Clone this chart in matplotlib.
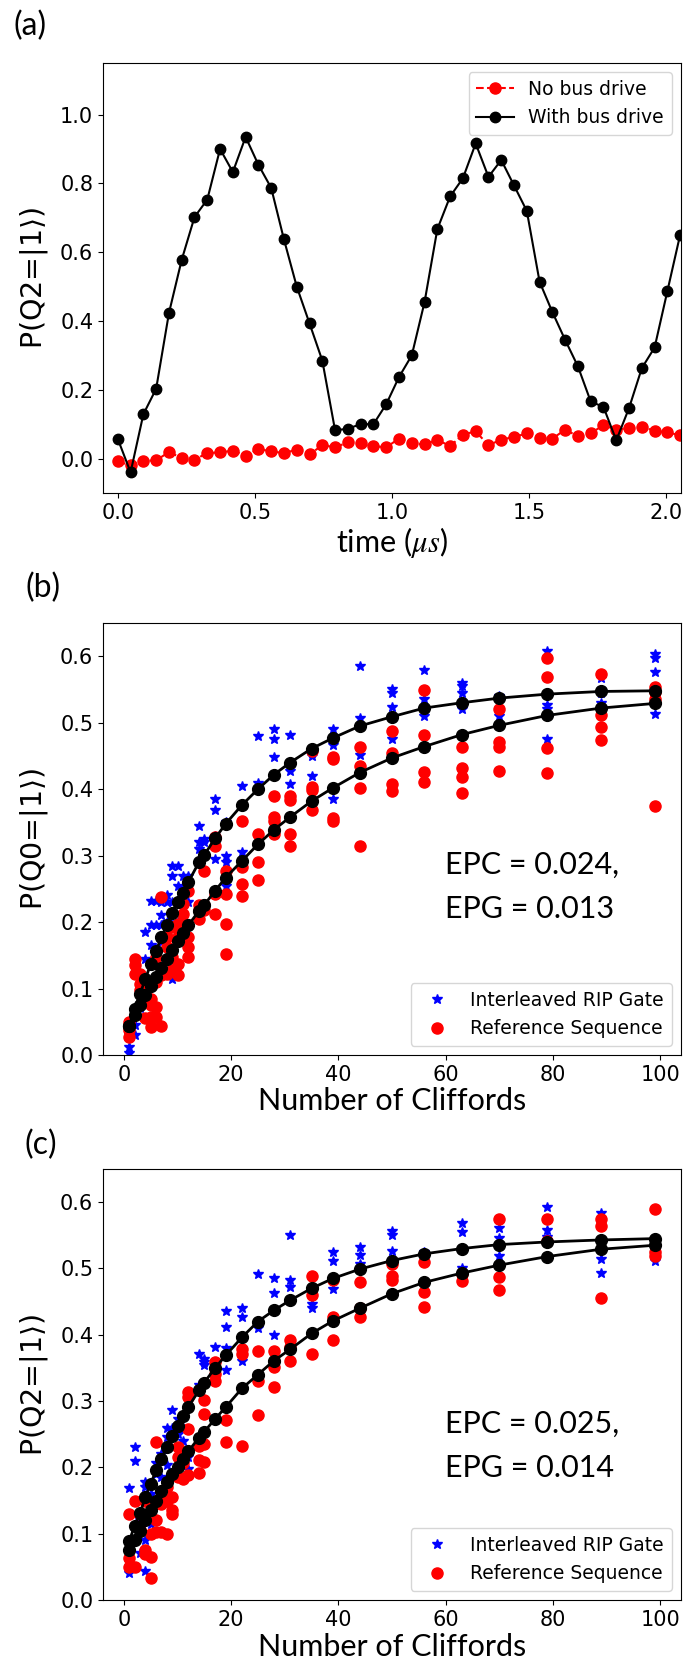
import matplotlib
matplotlib.use("Agg")
import matplotlib.pyplot as plt
import numpy as np

# ---------------- Panel (a) data ----------------
time_us = np.linspace(0.0, 2.05, 45)
no_bus = [-0.008, -0.02, -0.007, -0.005, 0.019, 0.002, -0.003, 0.016, 0.018, 0.023,
          0.009, 0.028, 0.021, 0.016, 0.026, 0.012, 0.039, 0.033, 0.047, 0.044,
          0.036, 0.033, 0.058, 0.045, 0.041, 0.055, 0.036, 0.070, 0.079, 0.039,
          0.055, 0.063, 0.073, 0.060, 0.058, 0.084, 0.065, 0.074, 0.097, 0.084,
          0.089, 0.092, 0.081, 0.076, 0.068]
with_bus = [0.057, -0.04, 0.129, 0.203, 0.423, 0.578, 0.702, 0.753, 0.900, 0.833,
            0.935, 0.854, 0.787, 0.637, 0.500, 0.393, 0.285, 0.082, 0.087, 0.100,
            0.100, 0.158, 0.237, 0.300, 0.455, 0.667, 0.762, 0.815, 0.916, 0.819,
            0.868, 0.794, 0.720, 0.514, 0.426, 0.345, 0.268, 0.166, 0.150, 0.053,
            0.147, 0.263, 0.323, 0.487, 0.651]

# ---------------- Panels (b), (c) data ----------------
cliffords = [1, 2, 3, 4, 5, 6, 7, 8, 9, 10, 11, 12, 14, 15, 17, 19, 22, 25, 28, 31,
             35, 39, 44, 50, 56, 63, 70, 79, 89, 99]

b_int = [
    [0.003, 0.012, 0.03], [0.03, 0.045, 0.06], [0.07, 0.09, 0.10],
    [0.11, 0.145, 0.185], [0.165, 0.195, 0.232], [0.16, 0.195, 0.232],
    [0.17, 0.195, 0.21, 0.23], [0.20, 0.23, 0.24], [0.115, 0.23, 0.27, 0.285],
    [0.20, 0.255, 0.285], [0.24, 0.25, 0.27], [0.23, 0.26, 0.27],
    [0.29, 0.31, 0.32, 0.345], [0.30, 0.32, 0.325], [0.295, 0.33, 0.368, 0.385],
    [0.255, 0.29, 0.30, 0.35], [0.305, 0.35, 0.405], [0.40, 0.41, 0.48],
    [0.335, 0.448, 0.475, 0.49], [0.408, 0.427, 0.482], [0.42, 0.45, 0.455],
    [0.385, 0.467, 0.475, 0.49], [0.452, 0.507, 0.585], [0.475, 0.523, 0.545, 0.55],
    [0.51, 0.535, 0.58], [0.52, 0.545, 0.555, 0.56], [0.51, 0.52, 0.54],
    [0.475, 0.52, 0.527, 0.608], [0.53, 0.545, 0.567], [0.513, 0.55, 0.577, 0.597, 0.603],
]
b_ref = [
    [0.0275, 0.0375, 0.05], [0.1225, 0.135, 0.144], [0.0975, 0.1075, 0.1225],
    [0.055, 0.0875, 0.11], [0.0425, 0.0575, 0.075, 0.085], [0.0575, 0.0725, 0.11, 0.1475],
    [0.0435, 0.12, 0.2375], [0.1225, 0.1625, 0.1775], [0.1275, 0.1475, 0.1925],
    [0.12, 0.1375, 0.1775, 0.1975], [0.195, 0.2125, 0.2275], [0.1475, 0.1625, 0.1775, 0.2475],
    [0.205, 0.2185, 0.225], [0.2185, 0.2775, 0.225], [0.2125, 0.2425, 0.315, 0.3275],
    [0.1525, 0.1975, 0.2425, 0.2775], [0.2385, 0.2575, 0.2835, 0.3525], [0.2635, 0.291, 0.3325],
    [0.333, 0.352, 0.358, 0.39], [0.315, 0.332, 0.384, 0.389], [0.368, 0.398, 0.403, 0.457],
    [0.352, 0.356, 0.445, 0.449], [0.314, 0.402, 0.435, 0.463], [0.397, 0.408, 0.455, 0.487],
    [0.411, 0.426, 0.482, 0.549], [0.394, 0.418, 0.432, 0.464], [0.427, 0.464, 0.471, 0.52],
    [0.425, 0.4625, 0.569, 0.597], [0.474, 0.494, 0.512, 0.573], [0.374, 0.535, 0.546, 0.554],
]
b_fit_int = [0.044, 0.069, 0.092, 0.114, 0.137, 0.157, 0.177, 0.196, 0.213, 0.23,
             0.244, 0.26, 0.29, 0.301, 0.326, 0.348, 0.376, 0.40, 0.422, 0.44,
             0.461, 0.477, 0.495, 0.509, 0.522, 0.53, 0.537, 0.543, 0.547, 0.548]
b_fit_ref = [0.043, 0.06, 0.075, 0.09, 0.104, 0.118, 0.131, 0.145, 0.158, 0.171,
             0.183, 0.195, 0.217, 0.226, 0.247, 0.267, 0.292, 0.317, 0.339, 0.358,
             0.382, 0.402, 0.425, 0.447, 0.464, 0.482, 0.496, 0.511, 0.522, 0.529]

c_int = [
    [0.04, 0.169], [0.209, 0.231], [0.071, 0.12], [0.044, 0.09, 0.17, 0.178],
    [0.115, 0.16], [0.19, 0.206], [0.185, 0.22], [0.203, 0.246, 0.26],
    [0.26, 0.286], [0.25, 0.273], [0.24, 0.26], [0.198, 0.216],
    [0.325, 0.371], [0.354, 0.359, 0.364], [0.35, 0.381], [0.347, 0.38, 0.411, 0.436],
    [0.36, 0.427, 0.44], [0.41, 0.492], [0.399, 0.463, 0.485], [0.472, 0.482, 0.55],
    [0.44, 0.446], [0.469, 0.512, 0.525], [0.507, 0.52, 0.533], [0.527, 0.55, 0.557],
    [0.52, 0.525], [0.5, 0.555, 0.568], [0.519, 0.546, 0.561], [0.548, 0.558, 0.592],
    [0.493, 0.514, 0.583], [0.511, 0.535],
]
c_ref = [
    [0.05, 0.063, 0.13], [0.05, 0.15], [0.105, 0.13], [0.07, 0.075, 0.15],
    [0.033, 0.065, 0.10], [0.103, 0.12, 0.238], [0.103, 0.145], [0.10, 0.15, 0.17],
    [0.13, 0.136, 0.155], [0.186, 0.216, 0.231], [0.183, 0.206], [0.188, 0.258, 0.306, 0.314],
    [0.191, 0.211, 0.233], [0.208, 0.236, 0.28, 0.301], [0.331, 0.341, 0.359], [0.238, 0.271],
    [0.233, 0.371, 0.379], [0.279, 0.331, 0.376], [0.321, 0.351, 0.376], [0.361, 0.382, 0.392],
    [0.371, 0.46, 0.489], [0.392, 0.427, 0.482], [0.427, 0.44, 0.479], [0.482, 0.489, 0.507],
    [0.442, 0.464, 0.51], [0.481, 0.492], [0.467, 0.487, 0.574], [0.541, 0.574],
    [0.456, 0.564, 0.574], [0.519, 0.525, 0.589],
]
c_fit_int = [0.089, 0.112, 0.131, 0.155, 0.175, 0.196, 0.213, 0.231, 0.247, 0.262,
             0.277, 0.291, 0.316, 0.328, 0.35, 0.369, 0.396, 0.42, 0.437, 0.452,
             0.47, 0.485, 0.499, 0.512, 0.522, 0.53, 0.536, 0.54, 0.543, 0.545]
c_fit_ref = [0.075, 0.09, 0.104, 0.12, 0.135, 0.149, 0.164, 0.178, 0.19, 0.201,
             0.213, 0.224, 0.245, 0.254, 0.273, 0.291, 0.319, 0.34, 0.361, 0.378,
             0.402, 0.421, 0.44, 0.462, 0.479, 0.493, 0.505, 0.518, 0.529, 0.535]

panel_labels = ["(a)", "(b)", "(c)"]
epc_texts = [("EPC = 0.024,", "EPG = 0.013"), ("EPC = 0.025,", "EPG = 0.014")]

# ---------------- Figure ----------------
W, H = 698, 1668
fig = plt.figure(figsize=(W / 100, H / 100), dpi=100)
plt.rcParams['font.family'] = ['DejaVu Sans']
TICK = 15
LEG = 13.5
YLAB = 20.5
CAL = ['Lato', 'DejaVu Sans']

def ax_rect(top_px, bot_px):
    left, right = 103, 681
    return [left / W, 1 - bot_px / H, (right - left) / W, (bot_px - top_px) / H]

axA = fig.add_axes(ax_rect(63, 493))
axB = fig.add_axes(ax_rect(623, 1055))
axC = fig.add_axes(ax_rect(1169, 1600))

# Panel (a)
axA.plot(time_us, no_bus, 'r--o', lw=1.5, ms=8, label='No bus drive')
axA.plot(time_us, with_bus, 'k-o', lw=1.5, ms=7.5, label='With bus drive')
axA.set_xlim(-0.054, 2.053)
axA.set_ylim(-0.1, 1.15)
axA.set_xticks([0.0, 0.5, 1.0, 1.5, 2.0])
axA.set_yticks([0.0, 0.2, 0.4, 0.6, 0.8, 1.0])
axA.set_ylabel(r'P(Q2=$|1\rangle$)', fontsize=YLAB, labelpad=7)
axA.set_xlabel(r'time ($\mu s$)', fontsize=22, family=CAL, math_fontfamily='stix',
               labelpad=2)
axA.legend(loc='upper right', fontsize=LEG)

def rb_panel(ax, ints, refs, fit_i, fit_r, ylab):
    first = True
    for x, ys in zip(cliffords, ints):
        ax.plot([x] * len(ys), ys, 'b*', ms=7, ls='none',
                label='Interleaved RIP Gate' if first else None)
        first = False
    first = True
    for x, ys in zip(cliffords, refs):
        ax.plot([x] * len(ys), ys, 'ro', ms=8, ls='none',
                label='Reference Sequence' if first else None)
        first = False
    ax.plot(cliffords, fit_i, 'k-o', lw=2, ms=8.5)
    ax.plot(cliffords, fit_r, 'k-o', lw=2, ms=8.5)
    ax.set_xlim(-3.9, 103.9)
    ax.set_ylim(0, 0.65)
    ax.set_xticks([0, 20, 40, 60, 80, 100])
    ax.set_yticks([0.0, 0.1, 0.2, 0.3, 0.4, 0.5, 0.6])
    ax.set_ylabel(ylab, fontsize=YLAB, labelpad=7)
    ax.set_xlabel('Number of Cliffords', fontsize=22, family=CAL, labelpad=2)
    ax.legend(loc='lower right', fontsize=LEG)
    return ax

rb_panel(axB, b_int, b_ref, b_fit_int, b_fit_ref, r'P(Q0=$|1\rangle$)')
rb_panel(axC, c_int, c_ref, c_fit_int, c_fit_ref, r'P(Q2=$|1\rangle$)')

for ax, (l1, l2), (y1, y2) in zip((axB, axC), epc_texts, [(0.44, 0.338), (0.408, 0.306)]):
    ax.text(0.592, y1, l1, transform=ax.transAxes, fontsize=22,
            family=CAL, va='center', ha='left')
    ax.text(0.592, y2, l2, transform=ax.transAxes, fontsize=22,
            family=CAL, va='center', ha='left')

for ax in (axA, axB, axC):
    ax.tick_params(labelsize=TICK)

for lab, (xp, yp) in zip(panel_labels, [(30, 26), (43, 588), (41, 1145)]):
    fig.text(xp / W, 1 - yp / H, lab, fontsize=23, family=CAL, ha='center', va='center')

fig.savefig('out.png', dpi=100)
